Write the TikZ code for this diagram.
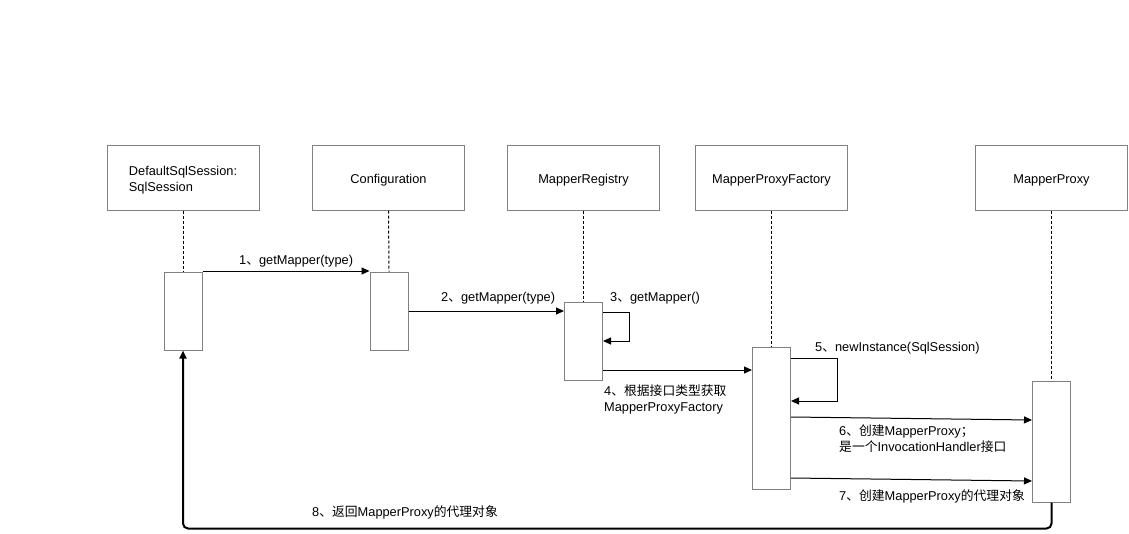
\documentclass[tikz,border=0pt]{standalone}
\usepackage{fontspec}
\setmainfont{Liberation Sans}
\newfontfamily\cjkfont{Noto Sans CJK SC}
\newcommand\zh[1]{{\cjkfont #1}}
\usetikzlibrary{arrows.meta}
\definecolor{boxgray}{RGB}{128,128,128}
\begin{document}
\begin{tikzpicture}[x=1pt,y=-1pt,
  font=\fontsize{12.8}{16}\selectfont,
  head/.style={draw=boxgray, line width=1pt, minimum width=152pt, minimum height=65pt, inner sep=0pt},
  headtext/.style={inner sep=0pt, align=left},
  actbar/.style={draw=boxgray, fill=white, line width=1pt, minimum width=38pt, inner sep=0pt},
  life/.style={dash pattern=on 3pt off 2pt, line width=1pt},
  msg/.style={-{Triangle[length=8pt,width=7pt]}, line width=1pt},
  lbl/.style={anchor=west, inner sep=0pt, align=left}]
\useasboundingbox[fill=white] (0,0) rectangle (1129,533);

% headers
\node[head] (h1) at (183,177.5) {};
\node[head] (h2) at (388.5,177.5) {};
\node[head] (h3) at (583.5,177.5) {};
\node[head] (h4) at (771.5,177.5) {};
\node[head] (h5) at (1051.5,177.5) {};
\node[headtext] (t1) at ([yshift=-2.5pt]h1.center) {DefaultSqlSession:\\SqlSession};
\node[headtext] (t2) at ([yshift=-2.5pt]h2.center) {Configuration};
\node[headtext] (t3) at ([yshift=-2.5pt]h3.center) {MapperRegistry};
\node[headtext] (t4) at ([yshift=-2.5pt]h4.center) {MapperProxyFactory};
\node[headtext] (t5) at ([yshift=-2.5pt]h5.center) {MapperProxy};

% activation bars
\node[actbar, minimum height=78pt] (b1) at (183,311) {};
\node[actbar, minimum height=78pt] (b2) at (389,311) {};
\node[actbar, minimum height=78pt] (b3) at (583.5,341) {};
\node[actbar, minimum height=142pt] (b4) at (771.5,418) {};
\node[actbar, minimum height=121pt] (b5) at (1051.5,441.5) {};

% lifelines
\draw[life] (h1.south) -- (b1.north);
\draw[life] (h2.south) -- (b2.north);
\draw[life] (h3.south) -- (b3.north);
\draw[life] (h4.south) -- (b4.north);
\draw[life] (h5.south) -- (b5.north);

% messages
\draw[msg] (b1.east |- 0,271) -- (b2.west |- 0,271);
\node[lbl] (l1) at (239,261) {1\zh{、}getMapper(type)};

\draw[msg] (b2.east |- 0,311) -- (b3.west |- 0,311);
\node[lbl] (l2) at (441,298) {2\zh{、}getMapper(type)};

\draw[msg] (b3.east |- 0,312) -- ++(26,0) |- (b3.east |- 0,341);
\node[lbl] (l3) at (610,298) {3\zh{、}getMapper()};

\draw[msg] (b3.east |- 0,370) -- (b4.west |- 0,370);
\node[lbl, anchor=north west] (l4) at (604,385) {4\zh{、根据接口类型获取}\\MapperProxyFactory};

\draw[msg] (b4.east |- 0,358) -- ++(46,0) |- (b4.east |- 0,401);
\node[lbl] (l5) at (815,348) {5\zh{、}newInstance(SqlSession)};

\draw[msg] (b4.east |- 0,417) -- (b5.west |- 0,420);
\node[lbl, anchor=north west] (l6) at (839,425) {6\zh{、创建}MapperProxy\zh{；}\\\zh{是一个}InvocationHandler\zh{接口}};

\draw[msg] (b4.east |- 0,478) -- (b5.west |- 0,481);
\node[lbl] (l7) at (839,496) {7\zh{、创建}MapperProxy\zh{的代理对象}};

\draw[msg, line width=2pt, rounded corners=5pt] (b5.south) -- ++(0,26) -| (b1.south);
\node[lbl] (l8) at (312,512) {8\zh{、返回}MapperProxy\zh{的代理对象}};
\end{tikzpicture}
\end{document}
